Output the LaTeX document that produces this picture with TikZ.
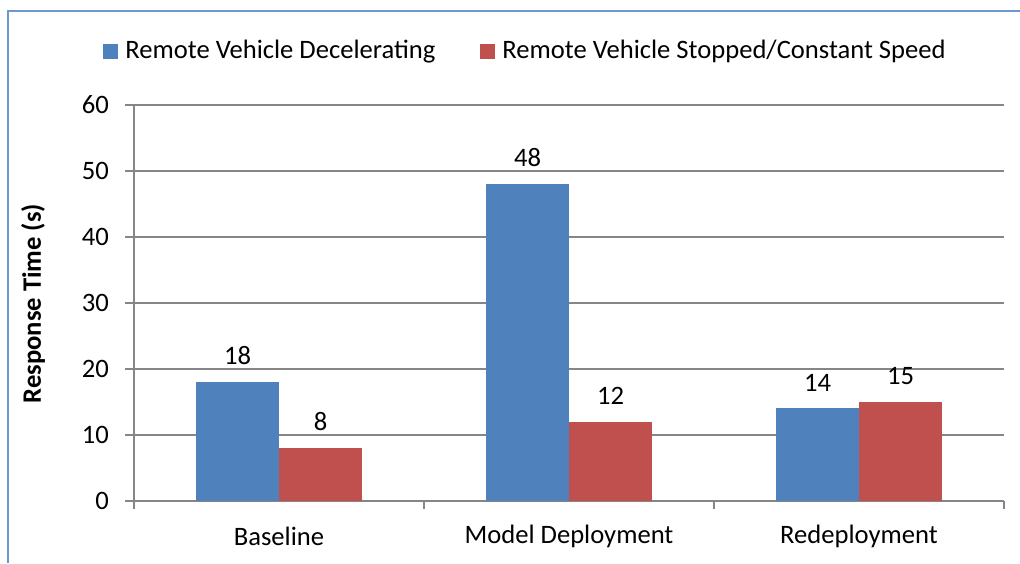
\documentclass[tikz,border=0pt]{standalone}
\usepackage{fontspec}
\setmainfont{Carlito}
\usepackage{tikz}
\usetikzlibrary{positioning}
\definecolor{decblue}{HTML}{4F81BD}
\definecolor{stopred}{HTML}{C0504D}
\definecolor{gridgray}{HTML}{868686}
\definecolor{framebl}{HTML}{6F97CF}
\tikzset{
	bar/.style={%
		fill=#1, inner sep=0pt,
		minimum width=83pt,
		anchor=south
	},
	bar/.default=decblue,
	vallabel/.style={inner sep=0pt, font=\fontsize{26.6}{30}\selectfont},
	ticklabel/.style={anchor=east, inner sep=0pt, font=\fontsize{26.6}{30}\selectfont},
	catlabel/.style={inner sep=0pt, font=\fontsize{26.6}{30}\selectfont},
	legendbox/.style={fill=#1, inner sep=0pt, minimum size=15pt},
	gridline/.style={draw=gridgray, line width=1.6pt}
}

\begin{document}
\begin{tikzpicture}[x=1pt,y=1pt]
		% page size of the reference
		\useasboundingbox (0,0) rectangle (1020,563);
		
		% frame of the chart
		\draw[framebl, line width=2pt] (8,0) -- (8,552) -- (1020,552);
		
		% grid and value axis
		\foreach \v in {0,10,...,60} {
			\draw[gridline] (125,62+6.6*\v) -- (1004,62+6.6*\v);
			\node[ticklabel] at (109,62+6.6*\v) {\v};
		}
		\draw[gridline] (134,62) -- (134,458);
		\foreach \t in {134,424,714,1004}
			\draw[gridline] (\t,62) -- (\t,54);
		
		\node[rotate=90, inner sep=0pt, font=\fontsize{26.6}{30}\selectfont\bfseries] (ylab) at (33,259.5) {Response Time (s)};
		
		% bars
		\node[bar, minimum height=6.6*18pt] (base-dec) at (237.5,62) {};
		\node[bar=stopred, minimum height=6.6*8pt] (base-stop) at (320.5,62) {};
		\node[bar, minimum height=6.6*48pt] (model-dec) at (527.5,62) {};
		\node[bar=stopred, minimum height=6.6*12pt] (model-stop) at (610.5,62) {};
		\node[bar, minimum height=6.6*14pt] (rede-dec) at (817.5,62) {};
		\node[bar=stopred, minimum height=6.6*15pt] (rede-stop) at (900.5,62) {};
		
		% values above the bars
		\node[vallabel, above=17pt of base-dec] {18};
		\node[vallabel, above=17pt of base-stop] {8};
		\node[vallabel, above=17pt of model-dec] {48};
		\node[vallabel, above=17pt of model-stop] {12};
		\node[vallabel, above=17pt of rede-dec] {14};
		\node[vallabel, above=17pt of rede-stop] {15};
		
		% categories
		\node[catlabel] (baseline) at (279,27) {Baseline};
		\node[catlabel] (model) at (569,27) {Model Deployment};
		\node[catlabel] (redeploy) at (859,27) {Redeployment};
		
		% legend
		\node[legendbox=decblue] (key-dec) at (110.5,511.5) {};
		\node[catlabel, anchor=west, right=7pt of key-dec] (leg-dec) {Remote Vehicle Decelerating};
		\node[legendbox=stopred] (key-stop) at (487.5,511.5) {};
		\node[catlabel, anchor=west, right=7pt of key-stop] (leg-stop) {Remote Vehicle Stopped/Constant Speed};
		
		\end{tikzpicture}
\end{document}
